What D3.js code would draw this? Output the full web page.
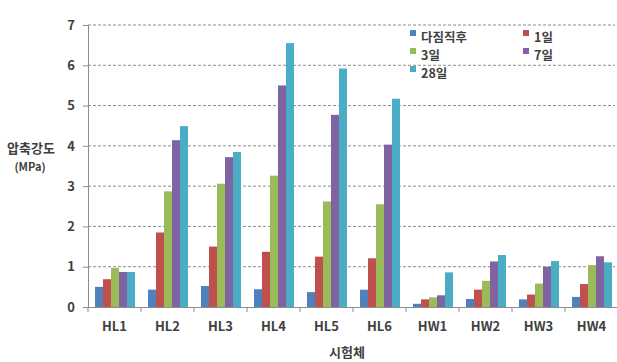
<!DOCTYPE html>
<html>
<head>
<meta charset="utf-8">
<script src="https://cdn.jsdelivr.net/npm/d3@7"></script>
<style>
  body { margin: 0; background: #fff; }
  text { font-family: "Noto Sans CJK KR", "Noto Sans", sans-serif; fill: #404040; }
</style>
</head>
<body>
<script>
var categories = ["HL1","HL2","HL3","HL4","HL5","HL6","HW1","HW2","HW3","HW4"];
var seriesNames = ["다짐직후","1일","3일","7일","28일"];
var seriesColors = ["#4f81bd","#c0504d","#9bbb59","#8064a2","#4bacc6"];

// compressive strength (MPa) per series, one value per specimen
var immediate = [0.50, 0.43, 0.52, 0.44, 0.37, 0.43, 0.08, 0.20, 0.19, 0.25];
var day1      = [0.69, 1.85, 1.50, 1.37, 1.25, 1.21, 0.19, 0.43, 0.31, 0.57];
var day3      = [0.97, 2.87, 3.06, 3.26, 2.62, 2.55, 0.24, 0.65, 0.58, 1.04];
var day7      = [0.87, 4.14, 3.72, 5.50, 4.77, 4.03, 0.29, 1.13, 1.00, 1.26];
var day28     = [0.87, 4.49, 3.85, 6.55, 5.92, 5.17, 0.86, 1.29, 1.14, 1.11];
var yTicks = [0,1,2,3,4,5,6,7];

var series = [immediate, day1, day3, day7, day28];

var width = 617, height = 362;
var svg = d3.select("body").append("svg")
    .attr("width", width)
    .attr("height", height);

var x0 = d3.scaleBand()
    .domain(categories)
    .range([88, 618])
    .paddingInner(0)
    .paddingOuter(0);

var x1 = d3.scaleBand()
    .domain(d3.range(series.length))
    .range([7, x0.bandwidth() - 6])
    .padding(0);

var y = d3.scaleLinear()
    .domain([0, 7])
    .range([307, 25]);

// gridlines
svg.append("g")
  .selectAll("line")
  .data(yTicks.filter(function(d){ return d > 0; }))
  .enter().append("line")
    .attr("x1", 88).attr("x2", 615)
    .attr("y1", function(d){ return y(d); })
    .attr("y2", function(d){ return y(d); })
    .style("stroke", "#8c8c8c")
    .style("stroke-width", 1)
    .style("stroke-dasharray", "3,2");

// bars
var groups = svg.append("g")
  .selectAll("g")
  .data(categories)
  .enter().append("g")
    .attr("transform", function(d){ return "translate(" + x0(d) + ",0)"; });

groups.selectAll("rect")
  .data(function(d, i){ return series.map(function(s, j){ return {k: j, v: s[i]}; }); })
  .enter().append("rect")
    .attr("x", function(d){ return x1(d.k); })
    .attr("width", x1.bandwidth())
    .attr("y", function(d){ return y(d.v); })
    .attr("height", function(d){ return y(0) - y(d.v); })
    .style("fill", function(d){ return seriesColors[d.k]; });

// y axis
var yAxis = svg.append("g")
    .attr("transform", "translate(88,0)")
    .call(d3.axisLeft(y).tickValues(yTicks).tickFormat(d3.format("d")).tickSize(5).tickPadding(8));
yAxis.select(".domain").style("stroke", "#8c8c8c");
yAxis.selectAll(".tick line").style("stroke", "#8c8c8c");
yAxis.selectAll("text")
    .style("font-size", "13px").style("font-weight", "bold")
    .style("fill", "#404040");

// x axis
var xAxis = svg.append("g")
    .attr("transform", "translate(0," + y(0) + ")")
    .call(d3.axisBottom(x0).tickSize(0).tickPadding(15));
xAxis.select(".domain").style("stroke", "#8c8c8c");
xAxis.selectAll("text")
    .style("font-size", "13px").style("font-weight", "bold")
    .style("fill", "#404040");
xAxis.selectAll(".sep")
  .data(d3.range(categories.length + 1))
  .enter().append("line")
    .attr("class", "sep")
    .attr("x1", function(i){ return x0.range()[0] + i * x0.step(); })
    .attr("x2", function(i){ return x0.range()[0] + i * x0.step(); })
    .attr("y1", 0).attr("y2", 5)
    .style("stroke", "#8c8c8c");

// axis titles
svg.append("text")
    .attr("x", 347).attr("y", 357)
    .style("text-anchor", "middle")
    .style("font-size", "13px").style("font-weight", "bold")
    .text("시험체");

svg.append("text")
    .attr("x", 31).attr("y", 153)
    .style("text-anchor", "middle")
    .style("font-size", "13px").style("font-weight", "bold")
    .text("압축강도");
svg.append("text")
    .attr("x", 30).attr("y", 171)
    .style("text-anchor", "middle")
    .style("font-size", "11px").style("font-weight", "bold")
    .text("(MPa)");

// legend
var legendPos = [[410, 33], [523, 33], [410, 51], [523, 51], [410, 69]];
var legend = svg.append("g")
  .selectAll("g")
  .data(seriesNames)
  .enter().append("g")
    .attr("transform", function(d, i){ return "translate(" + legendPos[i][0] + "," + legendPos[i][1] + ")"; });
legend.append("rect")
    .attr("x", 0).attr("y", -3)
    .attr("width", 6).attr("height", 6)
    .style("fill", function(d, i){ return seriesColors[i]; });
legend.append("text")
    .attr("x", 11).attr("y", 9)
    .style("font-size", "12.5px").style("font-weight", "bold")
    .text(function(d){ return d; });
</script>
</body>
</html>
